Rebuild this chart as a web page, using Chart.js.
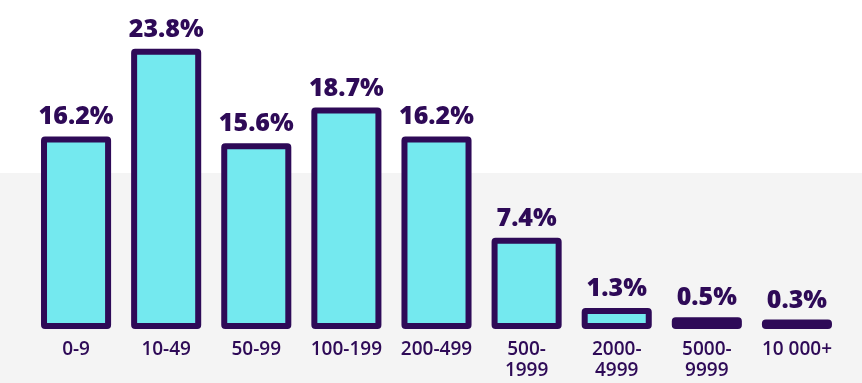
<!DOCTYPE html>
<html>
<head>
<meta charset="utf-8">
<script src="https://cdn.jsdelivr.net/npm/chart.js@4/dist/chart.umd.min.js"></script>
<style>
  html, body { margin: 0; padding: 0; }
  body { width: 862px; height: 383px; background: linear-gradient(#ffffff 0, #ffffff 173px, #f4f4f4 173px, #f4f4f4 100%); }
  #wrap { width: 862px; height: 383px; position: relative; }
</style>
</head>
<body>
<div id="wrap"><canvas id="c"></canvas></div>
<script>
const categories = [['0-9'], ['10-49'], ['50-99'], ['100-199'], ['200-499'], ['500-', '1999'], ['2000-', '4999'], ['5000-', '9999'], ['10 000+']];
const shares = [16.2, 23.8, 15.6, 18.7, 16.2, 7.4, 1.3, 0.5, 0.3];
const valueLabels = ['16.2%', '23.8%', '15.6%', '18.7%', '16.2%', '7.4%', '1.3%', '0.5%', '0.3%'];

const DARK = '#2e0a57';
const CYAN = '#74e9ef';

// Stroke each bar outline centred on its edge (as in the reference artwork)
const outlinePlugin = {
  id: 'barOutline',
  afterDatasetsDraw(chart) {
    const ctx = chart.ctx;
    const meta = chart.getDatasetMeta(0);
    ctx.save();
    ctx.strokeStyle = DARK;
    ctx.lineWidth = 6;
    ctx.lineJoin = 'round';
    meta.data.forEach((bar) => {
      const p = bar.getProps(['x', 'y', 'base', 'width'], true);
      const left = p.x - p.width / 2;
      const top = Math.min(p.y, p.base);
      const h = Math.abs(p.base - p.y);
      ctx.beginPath();
      ctx.roundRect(left, top, p.width, h, 1);
      ctx.stroke();
    });
    ctx.restore();
  }
};

const valueLabelPlugin = {
  id: 'valueLabels',
  afterDatasetsDraw(chart) {
    const ctx = chart.ctx;
    const meta = chart.getDatasetMeta(0);
    ctx.save();
    ctx.fillStyle = DARK;
    ctx.font = '800 25px "Open Sans", Lato, sans-serif';
    ctx.textAlign = 'center';
    ctx.textBaseline = 'alphabetic';
    meta.data.forEach((bar, i) => {
      ctx.fillText(valueLabels[i], bar.x, bar.y - 15);
    });
    ctx.restore();
  }
};

new Chart(document.getElementById('c'), {
  type: 'bar',
  data: {
    labels: categories,
    datasets: [{
      data: shares,
      backgroundColor: CYAN,
      borderWidth: 0,
      inflateAmount: 0,
      barPercentage: 0.9,
      categoryPercentage: 0.79
    }]
  },
  options: {
    responsive: true,
    maintainAspectRatio: false,
    animation: false,
    devicePixelRatio: 1,
    layout: { padding: { top: 38, left: 31, right: 20, bottom: 0 } },
    plugins: { legend: { display: false }, tooltip: { enabled: false } },
    scales: {
      y: { display: false, min: 0, max: 25 },
      x: {
        grid: { display: false, drawTicks: false },
        border: { display: false },
        ticks: {
          color: DARK,
          padding: 13,
          maxRotation: 0,
          autoSkip: false,
          font: { family: '"Open Sans", Lato, sans-serif', size: 19, weight: '600', lineHeight: 1.1 }
        },
        afterFit(scale) { scale.height = 57; }
      }
    }
  },
  plugins: [outlinePlugin, valueLabelPlugin]
});
</script>
</body>
</html>
